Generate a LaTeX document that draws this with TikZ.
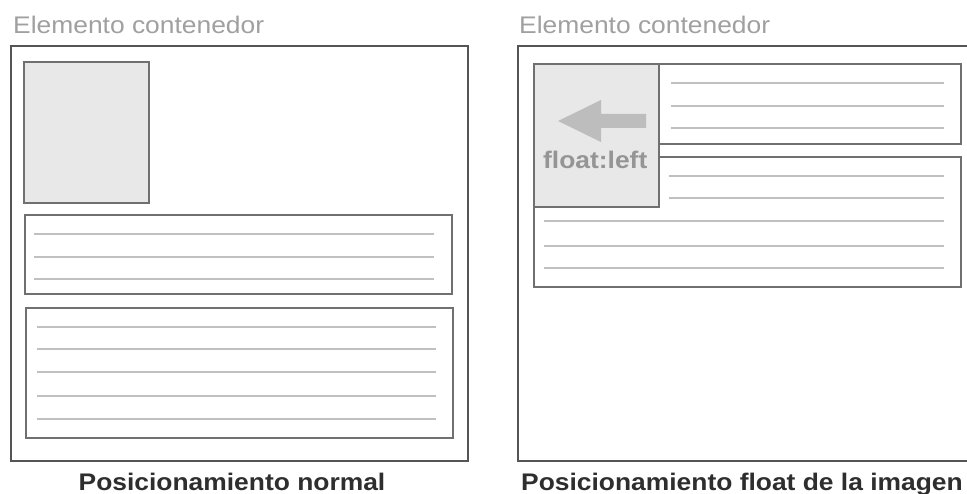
\documentclass[tikz,border=0pt]{standalone}
\usepackage{fontspec}
\newfontfamily\capfont[FakeStretch=1.1]{Liberation Sans}
\newfontfamily\capbold[FakeStretch=1.1]{Liberation Sans Bold}
\definecolor{frame}{HTML}{555555}
\definecolor{boxline}{HTML}{707070}
\definecolor{imgfill}{HTML}{E8E8E8}
\definecolor{txtline}{HTML}{C0C0C0}
\definecolor{titlegray}{HTML}{A0A0A0}
\definecolor{capgray}{HTML}{2E2E2E}
\definecolor{arrowgray}{HTML}{BDBDBD}
\definecolor{floatgray}{HTML}{959595}
\begin{document}
\begin{tikzpicture}[x=1pt,y=-1pt,
  container/.style={draw=frame,line width=2pt},
  para/.style={draw=boxline,line width=2pt,fill=white},
  imgbox/.style={draw=boxline,line width=2pt,fill=imgfill},
  tline/.style={draw=txtline,line width=1.8pt},
  titletxt/.style={inner sep=0pt,text=titlegray,font=\capfont\fontsize{24}{28}\selectfont},
  captxt/.style={inner sep=0pt,text=capgray,font=\capbold\fontsize{24}{28}\selectfont},
  floattxt/.style={inner sep=0pt,text=floatgray,font=\capbold\fontsize{24}{28}\selectfont}]
\clip (0,0) rectangle (967,494);
\useasboundingbox (0,0) rectangle (967,494);
\fill[white] (0,0) rectangle (967,494);

% ---------- left panel ----------
\node[titletxt,anchor=base west] (titleL) at (13,34) {Elemento contenedor};
\draw[container] (11,46) rectangle (468,461);
\draw[imgbox] (24,62) rectangle (149,203);
\draw[para] (25,215) rectangle (452,294);
\foreach \y in {234,257,279} \draw[tline] (34,\y) -- (434,\y);
\draw[para] (26,308) rectangle (453,438);
\foreach \y in {327,349,372,396,419} \draw[tline] (37,\y) -- (436,\y);
\node[captxt,anchor=base] (capL) at (232,490) {Posicionamiento normal};

% ---------- right panel ----------
\node[titletxt,anchor=base west] (titleR) at (519,34) {Elemento contenedor};
\draw[container] (518,46) rectangle (976,461);
\draw[para] (534,64) rectangle (961,144);
\foreach \y in {83,106,128} \draw[tline] (671,\y) -- (944,\y);
\draw[para] (534,157) rectangle (961,287);
\foreach \y in {176,198} \draw[tline] (669,\y) -- (944,\y);
\foreach \y in {221,246,268} \draw[tline] (544,\y) -- (944,\y);
\draw[imgbox] (534,64) rectangle (659,207);
\fill[arrowgray] (558,121) -- (601,100) -- (601,114) -- (646,114) -- (646,128) -- (601,128) -- (601,142) -- cycle;
\node[floattxt,anchor=base west] (floatlbl) at (543,169) {float:left};
\node[captxt,anchor=base west] (capR) at (521,490) {Posicionamiento float de la imagen};
\end{tikzpicture}
\end{document}
